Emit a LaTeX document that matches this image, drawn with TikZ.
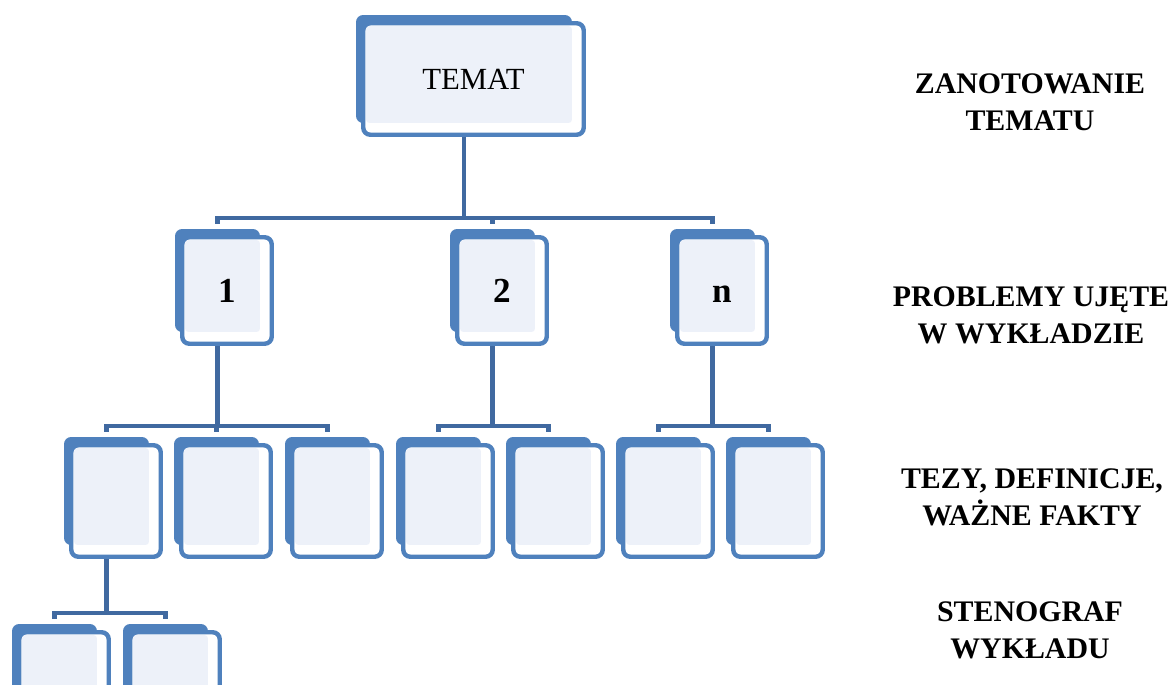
\documentclass[tikz,border=0pt]{standalone}
\usepackage{fontspec}
\setmainfont{Liberation Serif}
\usetikzlibrary{calc}
\pgfdeclarelayer{background}
\pgfsetlayers{background,main}
\definecolor{ramka}{HTML}{4F81BD}
\definecolor{wnetrze}{HTML}{EDF1F9}
\definecolor{linia}{HTML}{4069A0}

\begin{document}
\begin{tikzpicture}[x=0.02cm, y=-0.02cm,
  kafel/.style={rectangle, rounded corners=4pt, draw=ramka, line width=2.5pt, fill=white, inner sep=0pt, outer sep=0pt,
    path picture={\fill[wnetrze, rounded corners=2pt] ($(path picture bounding box.north west)+(2.75,2.75)$) rectangle ($(path picture bounding box.south east)+(-11.75,-11.75)$);}},
  duzy/.style={kafel, minimum width=4.41cm, minimum height=2.23cm, font=\fontsize{17.5}{20}\selectfont},
  sredni/.style={kafel, minimum width=1.79cm, minimum height=2.13cm, text height=13.5pt, text depth=0pt, font=\bfseries\fontsize{20}{22}\selectfont},
  maly/.style={kafel, minimum width=1.79cm, minimum height=2.23cm},
  opis/.style={align=center, anchor=base, font=\bfseries\fontsize{17}{21}\selectfont},
  laczka/.style={draw=linia, line width=2.5pt}]
\useasboundingbox (0,0) rectangle (1171,684);

\node[duzy] (temat) at (473.5,79) {TEMAT};
\node[sredni] (p1) at (227,290.5) {1};
\node[sredni] (p2) at (502,290.5) {2};
\node[sredni] (pn) at (722,290.5) {n};
\foreach \nazwa/\x in {t1/116, t2/226, t3/337, t4/448, t5/558, t6/668, t7/778}
  \node[maly] (\nazwa) at (\x,501) {};
\node[maly] (s1) at (64,688) {};
\node[maly] (s2) at (175,688) {};

\begin{pgfonlayer}{background}
% tylne kafle
\foreach \nazwa in {temat,p1,p2,pn,t1,t2,t3,t4,t5,t6,t7,s1,s2}
  \fill[ramka, rounded corners=4pt] ($(\nazwa.north west)+(-7.25,-8.25)$) rectangle ($(\nazwa.south east)+(-11.75,-11.75)$);
% polaczenia
\foreach \rodzic/\dziecko in {temat/p1, temat/p2, temat/pn, p1/t1, p1/t2, p1/t3, p2/t4, p2/t5, pn/t6, pn/t7, t1/s1, t1/s2}
  \draw[laczka] ($(\rodzic.south)+(-9.5,0)$) |- ($(\dziecko.north)+(-9.5,-19.25)$) -- ++(0,6);
\end{pgfonlayer}

\node[opis] (opis1) at (1030,130) {ZANOTOWANIE\\TEMATU};
\node[opis] (opis2) at (1031,343) {PROBLEMY UJĘTE\\W WYKŁADZIE};
\node[opis] (opis3) at (1032,525) {TEZY, DEFINICJE,\\WAŻNE FAKTY};
\node[opis] (opis4) at (1030,658) {STENOGRAF\\WYKŁADU};
\end{tikzpicture}
\end{document}
